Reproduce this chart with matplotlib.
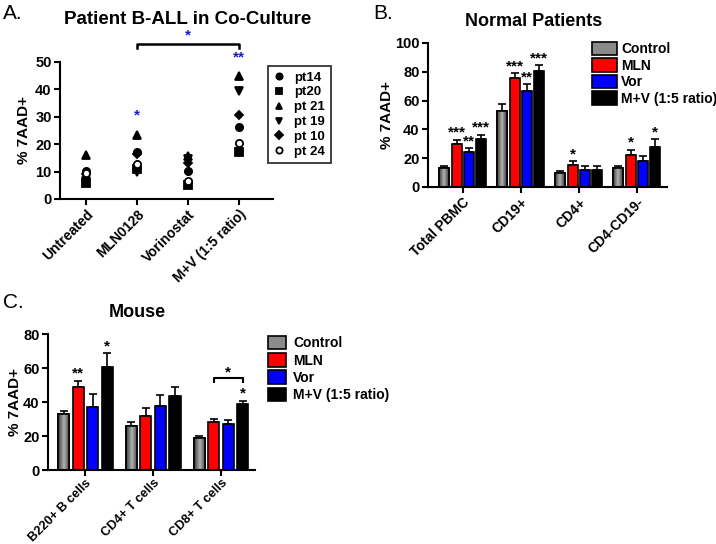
import matplotlib
matplotlib.use("Agg")
import matplotlib.pyplot as plt
import numpy as np
from matplotlib.patches import Patch
from matplotlib.lines import Line2D

plt.rcParams['font.family'] = ['Liberation Sans', 'DejaVu Sans']
plt.rcParams['font.weight'] = 'bold'

# panel A data: patient B-ALL co-culture, % 7AAD+
a_groups = ['Untreated', 'MLN0128', 'Vorinostat', 'M+V (1:5 ratio)']
a_patients = ['pt14', 'pt20', 'pt 21', 'pt 19', 'pt 10', 'pt 24']
a_markers = ['o', 's', '^', 'v', 'D', 'o']
a_values = {
    'pt14': [10.1, 17.0, 10.1, 26.2],
    'pt20': [6.0, 11.0, 5.2, 17.2],
    'pt 21': [15.9, 23.5, 15.7, 45.0],
    'pt 19': [6.5, 9.8, 14.5, 39.3],
    'pt 10': [9.2, 16.4, 13.3, 30.8],
    'pt 24': [9.6, 12.8, 6.5, 20.3],
}

# panel B data: normal patients
b_groups = ['Total PBMC', 'CD19+', 'CD4+', 'CD4-CD19-']
b_mean = {
    'Control': [13.2, 53.0, 9.7, 13.2],
    'MLN': [29.9, 75.7, 15.0, 22.5],
    'Vor': [24.0, 66.9, 11.6, 17.8],
    'M+V (1:5 ratio)': [33.5, 80.3, 11.6, 27.5],
}
b_err = {
    'Control': [1.6, 4.6, 1.6, 1.6],
    'MLN': [3.0, 3.4, 3.0, 3.5],
    'Vor': [3.0, 4.6, 3.0, 3.8],
    'M+V (1:5 ratio)': [2.8, 4.4, 3.0, 5.8],
}
b_stars = {
    'Control': ['', '', '', ''],
    'MLN': ['***', '***', '*', '*'],
    'Vor': ['**', '**', '', ''],
    'M+V (1:5 ratio)': ['***', '***', '', '*'],
}

# panel C data: mouse
c_groups = ['B220+ B cells', 'CD4+ T cells', 'CD8+ T cells']
c_mean = {
    'Control': [32.8, 26.0, 18.7],
    'MLN': [48.7, 31.8, 28.0],
    'Vor': [36.9, 37.9, 27.0],
    'M+V (1:5 ratio)': [60.5, 43.6, 38.7],
}
c_err = {
    'Control': [1.7, 2.2, 1.4],
    'MLN': [3.7, 4.5, 2.0],
    'Vor': [7.7, 6.1, 2.5],
    'M+V (1:5 ratio)': [8.3, 5.1, 2.0],
}
c_stars = {
    'Control': ['', '', ''],
    'MLN': ['**', '', ''],
    'Vor': ['', '', ''],
    'M+V (1:5 ratio)': ['*', '', '*'],
}

treatments = ['Control', 'MLN', 'Vor', 'M+V (1:5 ratio)']
colors = ['#7a7a7a', '#ff0000', '#0000ff', '#000000']

W, H = 716, 544
fig = plt.figure(figsize=(W / 100, H / 100), dpi=100)

# grey "3D" shading of the control bars
grad = np.abs(np.linspace(-1, 1, 64))
grad_cmap = matplotlib.colors.LinearSegmentedColormap.from_list(
    'g', ['#b0b0b0', '#3a3a3a'])


def px_axes(x0, x1, y_top, y_bot):
    return fig.add_axes([x0 / W, 1 - y_bot / H, (x1 - x0) / W, (y_bot - y_top) / H])


def style_axes(ax):
    for s in ['top', 'right']:
        ax.spines[s].set_visible(False)
    for s in ['left', 'bottom']:
        ax.spines[s].set_linewidth(1.5)
    ax.tick_params(width=1.5, length=4)
    ax.tick_params(axis='x', pad=2)
    ax.tick_params(axis='y', pad=2, labelsize=10.5)
    for lab in ax.get_yticklabels():
        lab.set_fontweight('bold')


def bar_panel(ax, groups, means, errs, stars, step, width, lab_size=9):
    x = np.arange(len(groups))
    for i, t in enumerate(treatments):
        pos = x + (i - 1.5) * step
        bars = ax.bar(pos, means[t], width, color=colors[i], edgecolor='black',
                      linewidth=1.2, zorder=2)
        if t == 'Control':
            for b in bars:
                x0, y0 = b.get_x(), b.get_y()
                im = ax.imshow(grad[None, :], cmap=grad_cmap, aspect='auto',
                               extent=[x0, x0 + b.get_width(), y0, y0 + b.get_height()],
                               zorder=2.1)
                im.set_clip_path(b)
                ax.bar(b.get_x() + b.get_width() / 2, b.get_height(), b.get_width(),
                       color='none', edgecolor='black', linewidth=1.2, zorder=2.2)
        ax.errorbar(pos, means[t], yerr=[np.zeros(len(groups)), errs[t]],
                    fmt='none', ecolor='black', elinewidth=1.2, capsize=3,
                    capthick=1.2, zorder=1)
        for p, m, e, s in zip(pos, means[t], errs[t], stars[t]):
            if s:
                ax.text(p, m + e, s, ha='center', va='bottom',
                        fontsize=11, clip_on=False)
    ax.set_xticks(x)
    ax.set_xticklabels(groups, rotation=45, ha='right', rotation_mode='anchor',
                       fontsize=lab_size, fontweight='bold')


# ---- A ----
axA = px_axes(60, 273, 62, 199)
for p, mk in zip(a_patients, a_markers):
    face = 'white' if p == 'pt 24' else 'black'
    ms = 4.2 if mk == 'D' else 5.2
    axA.plot(np.arange(4), a_values[p], linestyle='none', marker=mk, ms=ms,
             mfc=face, mec='black', mew=1.3, clip_on=False, zorder=3)
axA.set_xlim(-0.51, 3.67)
axA.set_ylim(0, 50)
axA.set_yticks(np.arange(0, 51, 10))
style_axes(axA)
axA.set_xticks(np.arange(4))
axA.set_xticklabels(a_groups, rotation=45, ha='right', rotation_mode='anchor',
                    fontsize=10, fontweight='bold')
axA.set_ylabel('% 7AAD+', fontsize=11, fontweight='bold', labelpad=3)
axA.set_title('Patient B-ALL in Co-Culture', fontsize=13.5, fontweight='bold',
              x=0.6, pad=27)
axA.text(1, 27.8, '*', color='#1a1acc', ha='center', va='bottom', fontsize=11)
axA.text(3, 49.2, '**', color='#1a1acc', ha='center', va='bottom', fontsize=11)
axA.plot([1, 1, 3, 3], [55.2, 56.6, 56.6, 55.2], color='black', lw=1.8,
         clip_on=False)
axA.text(2, 57.3, '*', color='#1a1acc', ha='center', va='bottom', fontsize=11)
handlesA = [Line2D([], [], linestyle='none', marker=mk,
                   ms=3.6 if mk == 'D' else 4.5,
                   mfc='white' if p == 'pt 24' else 'black', mec='black', mew=1.3)
            for p, mk in zip(a_patients, a_markers)]
legA = axA.legend(handlesA, a_patients, loc='upper left',
                  bbox_to_anchor=(268 / W, 1 - 66 / H), bbox_transform=fig.transFigure,
                  frameon=True, fancybox=False, edgecolor='black',
                  handlelength=0.8, handletextpad=0.8, labelspacing=0.2,
                  borderpad=0.4, borderaxespad=0,
                  prop={'weight': 'bold', 'size': 9.5})
legA.get_frame().set_linewidth(1.3)

# ---- B ----
axB = px_axes(428, 667, 43, 187)
bar_panel(axB, b_groups, b_mean, b_err, b_stars, 0.212, 0.17, lab_size=10)
axB.set_xlim(-0.6, 3.52)
axB.set_ylim(0, 100)
axB.set_yticks(np.arange(0, 101, 20))
style_axes(axB)
axB.set_ylabel('% 7AAD+', fontsize=11, fontweight='bold', labelpad=1)
axB.set_title('Normal Patients', fontsize=13, fontweight='bold', x=0.44, pad=12)
handlesBC = [Patch(facecolor=c, edgecolor='black', linewidth=1.2) for c in colors]
handlesBC[0] = Patch(facecolor='#8a8a8a', edgecolor='black', linewidth=1.2)
axB.legend(handlesBC, treatments, loc='upper left',
           bbox_to_anchor=(592 / W, 1 - 42 / H), bbox_transform=fig.transFigure,
           frameon=False, handlelength=1.8, handleheight=1.1, handletextpad=0.3,
           labelspacing=0.15, borderpad=0, borderaxespad=0,
           prop={'weight': 'bold', 'size': 10})

# ---- C ----
axC = px_axes(48, 255, 334, 470)
bar_panel(axC, c_groups, c_mean, c_err, c_stars, 0.214, 0.163, lab_size=9.2)
axC.set_xlim(-0.55, 2.5)
axC.set_ylim(0, 80)
axC.set_yticks(np.arange(0, 81, 20))
style_axes(axC)
axC.tick_params(axis='x', pad=1)
axC.set_ylabel('% 7AAD+', fontsize=11, fontweight='bold', labelpad=1)
axC.set_title('Mouse', fontsize=13, fontweight='bold', x=0.43, pad=12)
b1 = 2 + (1 - 1.5) * 0.214
b3 = 2 + (3 - 1.5) * 0.214
axC.plot([b1, b1, b3, b3], [52, 54, 54, 52], color='black', lw=1.5)
axC.text((b1 + b3) / 2, 53.5, '*', ha='center', va='bottom', fontsize=11)
axC.legend(handlesBC, treatments, loc='upper left',
           bbox_to_anchor=(268 / W, 1 - 336 / H), bbox_transform=fig.transFigure,
           frameon=False, handlelength=1.3, handleheight=1.1, handletextpad=0.5,
           labelspacing=0.2, borderpad=0, borderaxespad=0,
           prop={'weight': 'bold', 'size': 10})

# panel letters
fig.text(3 / W, 1 - 4 / H, 'A.', fontsize=15, fontweight='normal', va='top')
fig.text(373 / W, 1 - 4 / H, 'B.', fontsize=15, fontweight='normal', va='top')
fig.text(3 / W, 1 - 293 / H, 'C.', fontsize=15, fontweight='normal', va='top')

fig.savefig('out.png', dpi=100)
